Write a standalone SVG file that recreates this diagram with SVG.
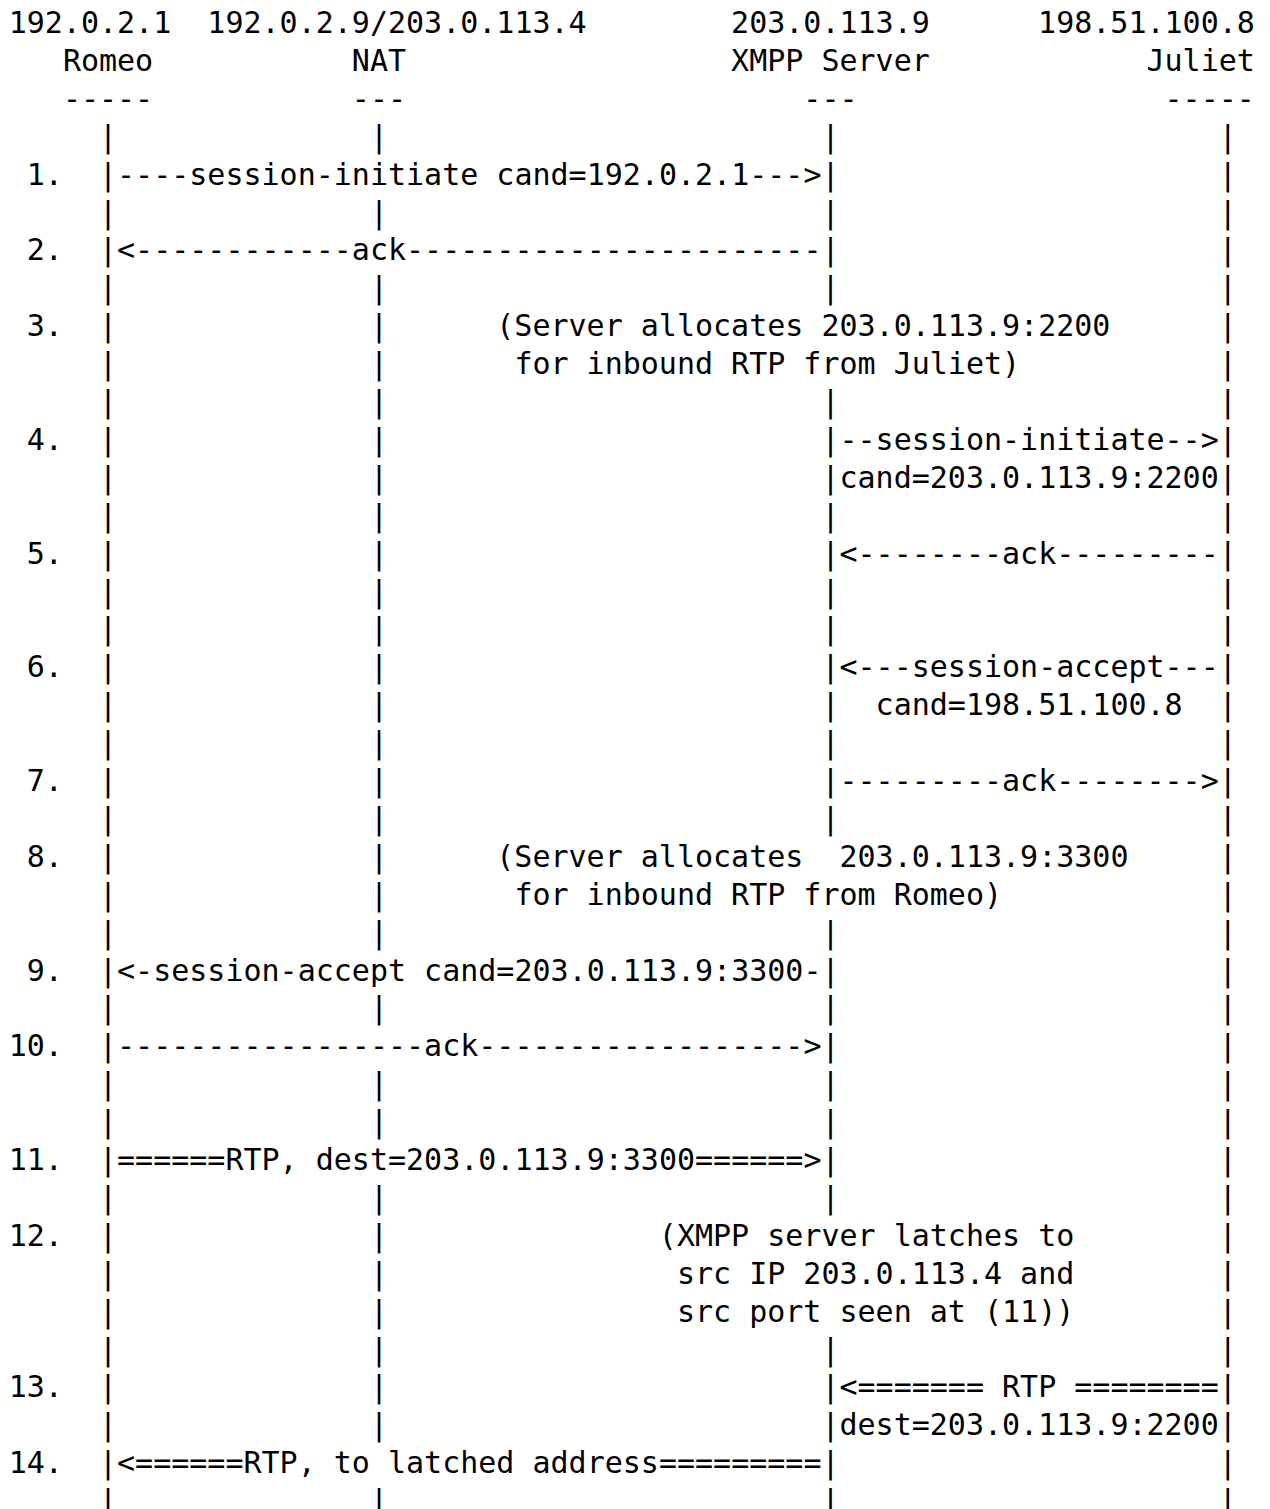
<svg xmlns="http://www.w3.org/2000/svg" width="1270" height="1509" viewBox="0 0 1270 1509" xml:space="preserve">
<style>
text { font-family: "DejaVu Sans Mono", "Liberation Mono", monospace; font-size: 30px; fill: #000000; white-space: pre; }
</style>
<rect x="0" y="0" width="1270" height="1509" fill="#ffffff"/>
<g id="participants">
  <g id="romeo">
    <text x="8.7" y="33">192.0.2.1</text>
    <text x="62.88" y="70.9">Romeo</text>
    <text x="62.88" y="108.8">-----</text>
  </g>
  <g id="nat">
    <text x="207.36" y="33">192.0.2.9/203.0.113.4</text>
    <text x="351.84" y="70.9">NAT</text>
    <text x="351.84" y="108.8">---</text>
  </g>
  <g id="xmpp-server">
    <text x="731.1" y="33">203.0.113.9</text>
    <text x="731.1" y="70.9">XMPP Server</text>
    <text x="803.34" y="108.8">---</text>
  </g>
  <g id="juliet">
    <text x="1038.12" y="33">198.51.100.8</text>
    <text x="1146.48" y="70.9">Juliet</text>
    <text x="1164.54" y="108.8">-----</text>
  </g>
</g>
<g id="lifelines">
  <text id="lifeline-romeo"><tspan x="99" y="146.7">|</tspan><tspan x="99" y="184.6">|</tspan><tspan x="99" y="222.5">|</tspan><tspan x="99" y="260.4">|</tspan><tspan x="99" y="298.3">|</tspan><tspan x="99" y="336.2">|</tspan><tspan x="99" y="374.1">|</tspan><tspan x="99" y="412">|</tspan><tspan x="99" y="449.9">|</tspan><tspan x="99" y="487.8">|</tspan><tspan x="99" y="525.7">|</tspan><tspan x="99" y="563.6">|</tspan><tspan x="99" y="601.5">|</tspan><tspan x="99" y="639.4">|</tspan><tspan x="99" y="677.3">|</tspan><tspan x="99" y="715.2">|</tspan><tspan x="99" y="753.1">|</tspan><tspan x="99" y="791">|</tspan><tspan x="99" y="828.9">|</tspan><tspan x="99" y="866.8">|</tspan><tspan x="99" y="904.7">|</tspan><tspan x="99" y="942.6">|</tspan><tspan x="99" y="980.5">|</tspan><tspan x="99" y="1018.4">|</tspan><tspan x="99" y="1056.3">|</tspan><tspan x="99" y="1094.2">|</tspan><tspan x="99" y="1132.1">|</tspan><tspan x="99" y="1170">|</tspan><tspan x="99" y="1207.9">|</tspan><tspan x="99" y="1245.8">|</tspan><tspan x="99" y="1283.7">|</tspan><tspan x="99" y="1321.6">|</tspan><tspan x="99" y="1359.5">|</tspan><tspan x="99" y="1397.4">|</tspan><tspan x="99" y="1435.3">|</tspan><tspan x="99" y="1473.2">|</tspan><tspan x="99" y="1511.1">|</tspan></text>
  <text id="lifeline-nat"><tspan x="369.9" y="146.7">|</tspan><tspan x="369.9" y="222.5">|</tspan><tspan x="369.9" y="298.3">|</tspan><tspan x="369.9" y="336.2">|</tspan><tspan x="369.9" y="374.1">|</tspan><tspan x="369.9" y="412">|</tspan><tspan x="369.9" y="449.9">|</tspan><tspan x="369.9" y="487.8">|</tspan><tspan x="369.9" y="525.7">|</tspan><tspan x="369.9" y="563.6">|</tspan><tspan x="369.9" y="601.5">|</tspan><tspan x="369.9" y="639.4">|</tspan><tspan x="369.9" y="677.3">|</tspan><tspan x="369.9" y="715.2">|</tspan><tspan x="369.9" y="753.1">|</tspan><tspan x="369.9" y="791">|</tspan><tspan x="369.9" y="828.9">|</tspan><tspan x="369.9" y="866.8">|</tspan><tspan x="369.9" y="904.7">|</tspan><tspan x="369.9" y="942.6">|</tspan><tspan x="369.9" y="1018.4">|</tspan><tspan x="369.9" y="1094.2">|</tspan><tspan x="369.9" y="1132.1">|</tspan><tspan x="369.9" y="1207.9">|</tspan><tspan x="369.9" y="1245.8">|</tspan><tspan x="369.9" y="1283.7">|</tspan><tspan x="369.9" y="1321.6">|</tspan><tspan x="369.9" y="1359.5">|</tspan><tspan x="369.9" y="1397.4">|</tspan><tspan x="369.9" y="1435.3">|</tspan><tspan x="369.9" y="1511.1">|</tspan></text>
  <text id="lifeline-xmpp-server"><tspan x="821.4" y="146.7">|</tspan><tspan x="821.4" y="184.6">|</tspan><tspan x="821.4" y="222.5">|</tspan><tspan x="821.4" y="260.4">|</tspan><tspan x="821.4" y="298.3">|</tspan><tspan x="821.4" y="412">|</tspan><tspan x="821.4" y="449.9">|</tspan><tspan x="821.4" y="487.8">|</tspan><tspan x="821.4" y="525.7">|</tspan><tspan x="821.4" y="563.6">|</tspan><tspan x="821.4" y="601.5">|</tspan><tspan x="821.4" y="639.4">|</tspan><tspan x="821.4" y="677.3">|</tspan><tspan x="821.4" y="715.2">|</tspan><tspan x="821.4" y="753.1">|</tspan><tspan x="821.4" y="791">|</tspan><tspan x="821.4" y="828.9">|</tspan><tspan x="821.4" y="942.6">|</tspan><tspan x="821.4" y="980.5">|</tspan><tspan x="821.4" y="1018.4">|</tspan><tspan x="821.4" y="1056.3">|</tspan><tspan x="821.4" y="1094.2">|</tspan><tspan x="821.4" y="1132.1">|</tspan><tspan x="821.4" y="1170">|</tspan><tspan x="821.4" y="1207.9">|</tspan><tspan x="821.4" y="1359.5">|</tspan><tspan x="821.4" y="1397.4">|</tspan><tspan x="821.4" y="1435.3">|</tspan><tspan x="821.4" y="1473.2">|</tspan><tspan x="821.4" y="1511.1">|</tspan></text>
  <text id="lifeline-juliet"><tspan x="1218.72" y="146.7">|</tspan><tspan x="1218.72" y="184.6">|</tspan><tspan x="1218.72" y="222.5">|</tspan><tspan x="1218.72" y="260.4">|</tspan><tspan x="1218.72" y="298.3">|</tspan><tspan x="1218.72" y="336.2">|</tspan><tspan x="1218.72" y="374.1">|</tspan><tspan x="1218.72" y="412">|</tspan><tspan x="1218.72" y="449.9">|</tspan><tspan x="1218.72" y="487.8">|</tspan><tspan x="1218.72" y="525.7">|</tspan><tspan x="1218.72" y="563.6">|</tspan><tspan x="1218.72" y="601.5">|</tspan><tspan x="1218.72" y="639.4">|</tspan><tspan x="1218.72" y="677.3">|</tspan><tspan x="1218.72" y="715.2">|</tspan><tspan x="1218.72" y="753.1">|</tspan><tspan x="1218.72" y="791">|</tspan><tspan x="1218.72" y="828.9">|</tspan><tspan x="1218.72" y="866.8">|</tspan><tspan x="1218.72" y="904.7">|</tspan><tspan x="1218.72" y="942.6">|</tspan><tspan x="1218.72" y="980.5">|</tspan><tspan x="1218.72" y="1018.4">|</tspan><tspan x="1218.72" y="1056.3">|</tspan><tspan x="1218.72" y="1094.2">|</tspan><tspan x="1218.72" y="1132.1">|</tspan><tspan x="1218.72" y="1170">|</tspan><tspan x="1218.72" y="1207.9">|</tspan><tspan x="1218.72" y="1245.8">|</tspan><tspan x="1218.72" y="1283.7">|</tspan><tspan x="1218.72" y="1321.6">|</tspan><tspan x="1218.72" y="1359.5">|</tspan><tspan x="1218.72" y="1397.4">|</tspan><tspan x="1218.72" y="1435.3">|</tspan><tspan x="1218.72" y="1473.2">|</tspan><tspan x="1218.72" y="1511.1">|</tspan></text>
</g>
<g id="step-labels">
  <text x="26.76" y="184.6">1.</text>
  <text x="26.76" y="260.4">2.</text>
  <text x="26.76" y="336.2">3.</text>
  <text x="26.76" y="449.9">4.</text>
  <text x="26.76" y="563.6">5.</text>
  <text x="26.76" y="677.3">6.</text>
  <text x="26.76" y="791">7.</text>
  <text x="26.76" y="866.8">8.</text>
  <text x="26.76" y="980.5">9.</text>
  <text x="8.7" y="1056.3">10.</text>
  <text x="8.7" y="1170">11.</text>
  <text x="8.7" y="1245.8">12.</text>
  <text x="8.7" y="1397.4">13.</text>
  <text x="8.7" y="1473.2">14.</text>
</g>
<g id="connectors">
  <text x="117.06" y="184.6">----session-initiate cand=192.0.2.1---&gt;</text>
  <text x="117.06" y="260.4">&lt;------------ack-----------------------</text>
  <text x="839.46" y="449.9">--session-initiate--&gt;</text>
  <text x="839.46" y="487.8">cand=203.0.113.9:2200</text>
  <text x="839.46" y="563.6">&lt;--------ack---------</text>
  <text x="839.46" y="677.3">&lt;---session-accept---</text>
  <text x="875.58" y="715.2">cand=198.51.100.8</text>
  <text x="839.46" y="791">---------ack--------&gt;</text>
  <text x="117.06" y="980.5">&lt;-session-accept cand=203.0.113.9:3300-</text>
  <text x="117.06" y="1056.3">-----------------ack------------------&gt;</text>
  <text x="117.06" y="1170">======RTP, dest=203.0.113.9:3300======&gt;</text>
  <text x="839.46" y="1397.4">&lt;======= RTP ========</text>
  <text x="839.46" y="1435.3">dest=203.0.113.9:2200</text>
  <text x="117.06" y="1473.2">&lt;======RTP, to latched address=========</text>
</g>
<g id="notes">
  <text x="496.32" y="336.2">(Server allocates 203.0.113.9:2200</text>
  <text x="514.38" y="374.1">for inbound RTP from Juliet)</text>
  <text x="496.32" y="866.8">(Server allocates  203.0.113.9:3300</text>
  <text x="514.38" y="904.7">for inbound RTP from Romeo)</text>
  <text x="658.86" y="1245.8">(XMPP server latches to</text>
  <text x="676.92" y="1283.7">src IP 203.0.113.4 and</text>
  <text x="676.92" y="1321.6">src port seen at (11))</text>
</g>
</svg>
